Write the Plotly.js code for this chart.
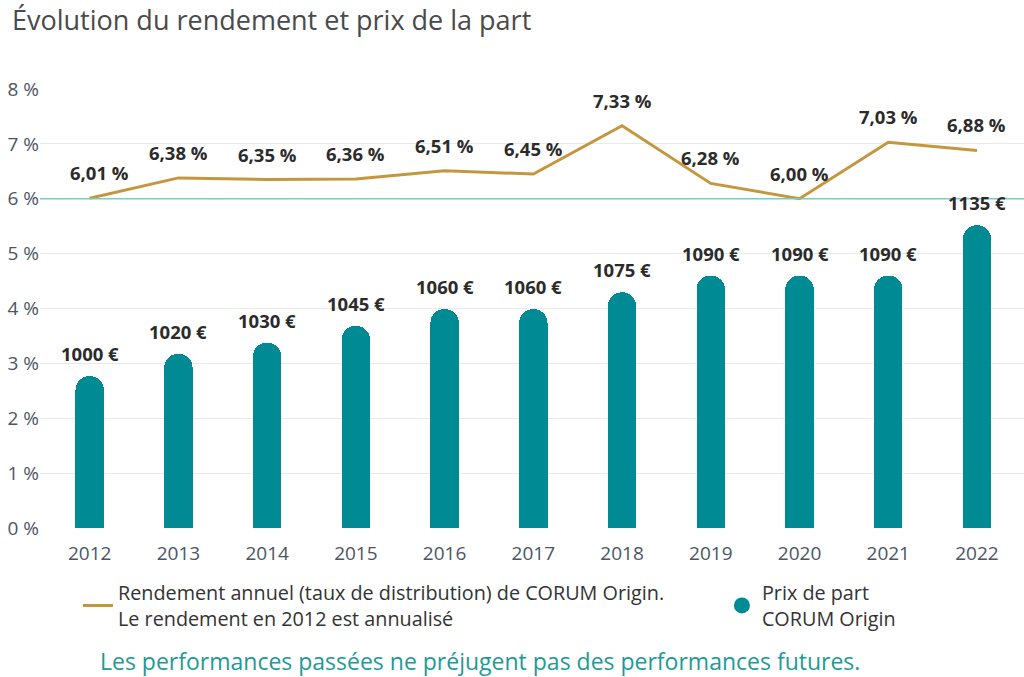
<!DOCTYPE html>
<html>
<head>
<meta charset="utf-8">
<script src="https://cdn.plot.ly/plotly-3.0.1.min.js"></script>
<style>
html,body{margin:0;padding:0;background:#fff;}
#chart{width:1024px;height:677px;}
</style>
</head>
<body>
<div id="chart"></div>
<script>
const years = ['2012','2013','2014','2015','2016','2017','2018','2019','2020','2021','2022'];
const rendement = [6.01,6.38,6.35,6.36,6.51,6.45,7.33,6.28,6.00,7.03,6.88];
const prix = [1000,1020,1030,1045,1060,1060,1075,1090,1090,1090,1135];
const yTicks = [0,1,2,3,4,5,6,7,8];
const yTickText = yTicks.map(v => v + ' %');

const FONT = '"Open Sans", sans-serif';
const GOLD = '#C4973F';
const TEAL = '#008A94';

const fmtPct = v => v.toFixed(2).replace('.', ',') + ' %';
const fmtEur = v => v + ' €';

const traces = [
  {
    type: 'bar', x: years, y: prix, yaxis: 'y2',
    marker: {color: TEAL, cornerradius: '50%'},
    width: 0.32, showlegend: false, hoverinfo: 'skip'
  },
  {
    type: 'scatter', mode: 'lines', x: years, y: rendement,
    line: {color: GOLD, width: 3},
    name: 'Rendement annuel (taux de distribution) de CORUM Origin.<br>Le rendement en 2012 est annualisé',
    showlegend: true, legend: 'legend'
  },
  {
    type: 'scatter', mode: 'markers', x: [null], y: [null],
    marker: {color: TEAL, size: 17, symbol: 'circle'},
    name: 'Prix de part<br>CORUM Origin', showlegend: true, legend: 'legend2'
  }
];

const labelFont = {family: FONT, size: 18.5, color: '#2b2b2b'};
const annotations = [];
years.forEach((yr, i) => {
  annotations.push({
    x: i, y: rendement[i], xref: 'x', yref: 'y',
    text: '<b>' + fmtPct(rendement[i]) + '</b>', showarrow: false,
    yanchor: 'bottom', yshift: 11, xshift: i === 0 ? 10 : 0,
    font: labelFont
  });
  annotations.push({
    x: i, y: prix[i], xref: 'x', yref: 'y2',
    text: '<b>' + fmtEur(prix[i]) + '</b>', showarrow: false,
    yanchor: 'bottom', yshift: 8,
    font: labelFont
  });
});
annotations.push({
  xref: 'container', yref: 'paper', x: 94/1024, y: -0.303, xanchor: 'left', yanchor: 'middle',
  text: 'Les performances passées ne préjugent pas des performances futures.',
  showarrow: false, font: {family: FONT, size: 23, color: '#1E9A97'}
});

const legendFont = {family: FONT, size: 19.8, color: '#333'};

const layout = {
  width: 1024, height: 677,
  margin: {l: 40, r: 0, t: 89, b: 149},
  paper_bgcolor: '#fff', plot_bgcolor: '#fff',
  font: {family: FONT, color: '#4b5563'},
  title: {
    text: 'Évolution du rendement et prix de la part',
    x: 12/1024, xanchor: 'left', xref: 'container', y: 0.969, yanchor: 'middle',
    font: {family: FONT, size: 27, color: '#4a4a4a'}
  },
  xaxis: {
    type: 'category', range: [-0.56, 10.53],
    showgrid: false, zeroline: false, showline: false, ticks: '',
    tickfont: {family: FONT, size: 19, color: '#4b5563'},
    ticklabelstandoff: 12
  },
  yaxis: {
    range: [0, 8], tickmode: 'array', tickvals: yTicks, ticktext: yTickText,
    showgrid: true, gridcolor: '#e9e9e9', gridwidth: 1,
    zeroline: false, showline: false, ticks: '',
    tickfont: {family: FONT, size: 19, color: '#4b5563'}
  },
  yaxis2: {
    overlaying: 'y', range: [864, 1257], visible: false, showgrid: false
  },
  shapes: [{
    type: 'line', xref: 'paper', yref: 'y', x0: 0, x1: 1, y0: 6, y1: 6,
    line: {color: '#6FD0C5', width: 1.5}, layer: 'above'
  }],
  annotations: annotations,
  showlegend: true,
  legend: {
    orientation: 'v', x: 0.0386, xanchor: 'left', y: -0.103, yanchor: 'top',
    font: legendFont, bgcolor: 'rgba(0,0,0,0)'
  },
  legend2: {
    orientation: 'v', x: 0.693, xanchor: 'left', y: -0.103, yanchor: 'top',
    font: legendFont, bgcolor: 'rgba(0,0,0,0)'
  },
  bargap: 0
};

Plotly.newPlot('chart', traces, layout, {displayModeBar: false, staticPlot: true});
</script>
</body>
</html>
